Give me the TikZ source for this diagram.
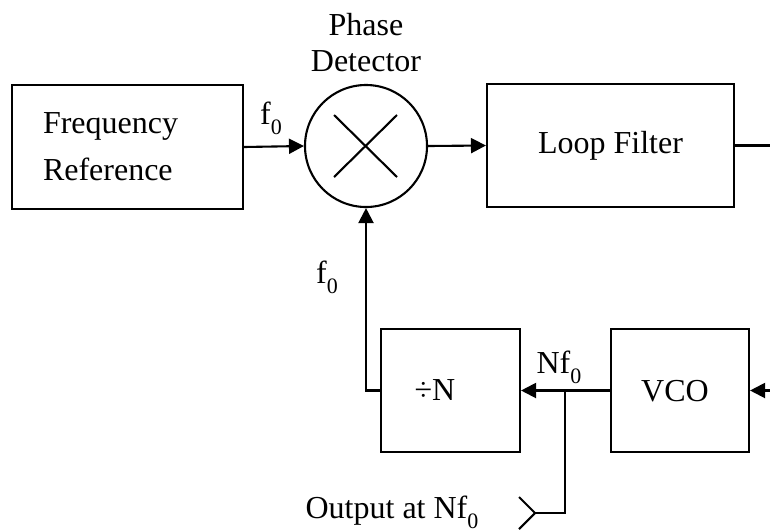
\documentclass[tikz,border=0pt]{standalone}
\usepackage{fontspec}
\setmainfont{Liberation Serif}
\usetikzlibrary{arrows.meta}
\newcommand{\sbz}{\raisebox{-0.32em}{\fontsize{11}{11}\selectfont 0}}
\begin{document}
\begin{tikzpicture}[x=0.5pt,y=-0.5pt,
  every node/.style={font=\fontsize{16}{23.5}\selectfont},
  blk/.style={draw,line width=1.05pt,rectangle,inner sep=0pt},
  wire/.style={line width=1.05pt},
  arr/.style={line width=1.05pt,-{Triangle[length=7.5pt,width=7.5pt]}},
  lbl/.style={inner sep=0pt}]
\useasboundingbox (0,0) rectangle (770,531);
% blocks
\node[blk,minimum width=115.5pt,minimum height=62pt,align=left,text width=84.5pt,inner xsep=15.5pt] (fr) at (127.5,147) {Frequency\\Reference};
\node[draw,circle,line width=1.05pt,minimum size=61pt,inner sep=0pt] (pd) at (366,146) {};
\draw[line width=1.05pt] (334,115) -- (397,177) (397,115) -- (334,177);
\node[lbl,align=center,font=\fontsize{16}{18}\selectfont] (pdt) at (366,43) {Phase\\Detector};
\node[blk,minimum width=123.5pt,minimum height=61.5pt] (lf) at (610.5,145.5) {Loop Filter};
\node[blk,minimum width=69.5pt,minimum height=61.5pt] (dn) at (450.5,390.5) {};
\node[lbl] (dnt) at (435,390.5) {÷N};
\node[blk,minimum width=69pt,minimum height=61.5pt] (vco) at (680,390.5) {};
\node[lbl] (vcot) at (675,391) {VCO};
% coordinates
\coordinate (lfo) at (770,145.5);
\coordinate (vin) at (770,390.5);
\coordinate (fb) at (366,390.5);
\coordinate (br) at (565,390.5);
\coordinate (brd) at (565,513);
\coordinate (tip) at (535,513);
\coordinate (ta) at (519,497);
\coordinate (tb) at (519,529);
% connectors
\draw[arr] (fr.east) -- (pd.west);
\draw[arr] (pd.east) -- (lf.west);
\draw[wire] (lf.east) -- (lfo);
\draw[arr] (vin) -- (vco.east);
\draw[arr] (vco.west) -- (dn.east);
\draw[arr] (dn.west) -- (fb) -- (pd.south);
\draw[wire] (br) -- (brd) -- (tip);
\draw[wire] (ta) -- (tip) -- (tb);
% labels
\node[lbl] (l1) at (271,118) {f\sbz};
\node[lbl] (l2) at (327,277) {f\sbz};
\node[lbl] (l3) at (559,367) {Nf\sbz};
\node[lbl] (l4) at (392,512) {Output at Nf\sbz};
\end{tikzpicture}
\end{document}
